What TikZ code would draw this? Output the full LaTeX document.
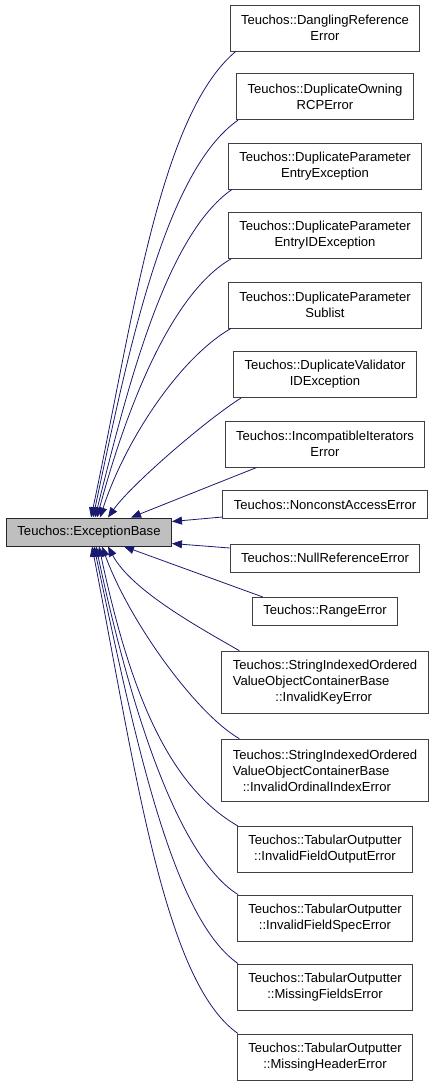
\documentclass[tikz,border=0pt]{standalone}
\usepackage{fontspec}
\setmainfont{Liberation Sans}
\usetikzlibrary{positioning, arrows.meta, calc}
\definecolor{edgeblue}{HTML}{191970}
\definecolor{basegray}{HTML}{BFBFBF}

\begin{document}
\begin{tikzpicture}[x=0.75pt, y=0.75pt,
  font=\fontsize{9.8}{12}\selectfont,
  cls/.style={draw=black!75, line width=0.75pt, fill=white, inner xsep=8.2pt, inner ysep=0pt, minimum height=34.5pt, align=center},
  clsone/.style={cls, minimum height=21pt},
  clsthree/.style={cls, minimum height=47pt, align=left},
  inh/.style={edgeblue, line width=0.6pt, -{Triangle[length=7.5pt, width=6pt]}}]
  \useasboundingbox (0,0) rectangle (435,-1085);

  % Base class
  \node[cls, minimum height=21pt, fill=basegray, draw=black!85] (base) at (89,-532) {Teuchos::ExceptionBase};

  % Derived classes
  \node[cls] (dangling) at (325,-28) {Teuchos::DanglingReference\\Error};
  \node[cls] (dupowning) at (325,-96.5) {Teuchos::DuplicateOwning\\RCPError};
  \node[cls] (dupentry) at (325,-166) {Teuchos::DuplicateParameter\\EntryException};
  \node[cls] (dupentryid) at (325,-235.5) {Teuchos::DuplicateParameter\\EntryIDException};
  \node[cls] (dupsublist) at (325,-305) {Teuchos::DuplicateParameter\\Sublist};
  \node[cls] (dupvalidator) at (325,-374.5) {Teuchos::DuplicateValidator\\IDException};
  \node[cls] (incompat) at (325,-444) {Teuchos::IncompatibleIterators\\Error};
  \node[clsone] (nonconst) at (325,-504.5) {Teuchos::NonconstAccessError};
  \node[clsone] (nullref) at (325,-558) {Teuchos::NullReferenceError};
  \node[clsone] (rangeerr) at (325,-611.5) {Teuchos::RangeError};
  \node[clsthree] (invkey) at (325,-682.5) {Teuchos::StringIndexedOrdered\\ValueObjectContainerBase\\\hspace*{32pt}::InvalidKeyError};
  \node[clsthree] (invordinal) at (325,-770.5) {Teuchos::StringIndexedOrdered\\ValueObjectContainerBase\\\hspace*{7.5pt}::InvalidOrdinalIndexError};
  \node[cls] (fieldoutput) at (325,-849.5) {Teuchos::TabularOutputter\\::InvalidFieldOutputError};
  \node[cls] (fieldspec) at (325,-918) {Teuchos::TabularOutputter\\::InvalidFieldSpecError};
  \node[cls] (missfields) at (325,-987) {Teuchos::TabularOutputter\\::MissingFieldsError};
  \node[cls] (missheader) at (325,-1057) {Teuchos::TabularOutputter\\::MissingHeaderError};

  % Edges into the top of the base
  \foreach \n/\dx/\oa/\ol/\ia/\il/\ex in {dangling/6/220/100/78/200/85, dupowning/2/215/90/78/170/87,
      dupentry/4/215/80/76/140/89, dupentryid/3/210/70/75/110/91, dupsublist/3/210/60/72/80/94,
      dupvalidator/8/212/40/55/40/102} {
    \draw[inh] ($(\n.south west)+(\dx,0)$) .. controls +(\oa:\ol) and +(\ia:\il) .. ($(base.north west)+(\ex,0)$);
  }
  \draw[inh] ($(incompat.south west)+(32,0)$) -- ($(base.north west)+(125,0)$);

  % Edges into the right side
  \draw[inh] ($(nonconst.south west)+(0,2)$) -- ($(base.north east)+(0,-4)$);
  \draw[inh] ($(nullref.west)+(0,10)$) -- ($(base.south east)+(0,3)$);

  % Edges into the bottom of the base
  \draw[inh] ($(rangeerr.north west)+(11,0)$) -- ($(base.south west)+(118,0)$);
  \foreach \n/\dx/\oa/\ol/\ia/\il/\ex in {invkey/18/150/45/-62/50/102, invordinal/18/150/50/-70/80/96,
      fieldoutput/1/150/80/-78/150/93, fieldspec/1/148/70/-78/170/90,
      missfields/1/145/80/-78/200/88, missheader/1/145/90/-79/230/86} {
    \draw[inh] ($(\n.north west)+(\dx,0)$) .. controls +(\oa:\ol) and +(\ia:\il) .. ($(base.south west)+(\ex,0)$);
  }
\end{tikzpicture}
\end{document}
